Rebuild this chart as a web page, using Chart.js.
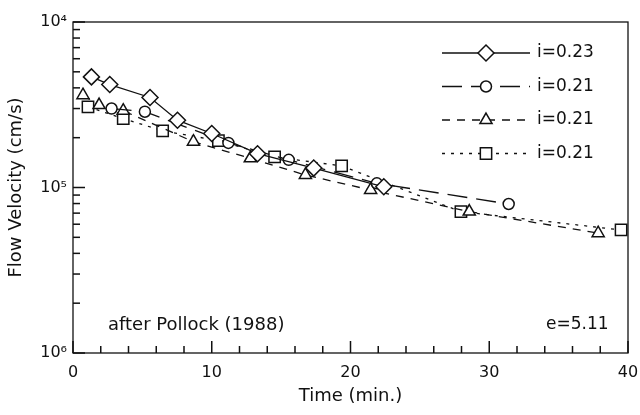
<!DOCTYPE html>
<html>
<head>
<meta charset="utf-8">
<script src="https://cdn.jsdelivr.net/npm/chart.js@4"></script>
<style>
html, body { margin: 0; padding: 0; background: #fff; }
canvas { display: block; }
</style>
</head>
<body>
<canvas id="chart" width="640" height="415"></canvas>
<script>
// values: time in minutes, flow velocity in cm/s
const seriesLabels = ['i=0.23', 'i=0.21', 'i=0.21', 'i=0.21'];

const diamondTime = [1.33, 2.65, 5.55, 7.53, 10.0, 13.3, 17.35, 22.4];
const diamondVel = [4.66e-5, 4.19e-5, 3.50e-5, 2.55e-5, 2.12e-5, 1.60e-5, 1.31e-5, 1.01e-5];

const circleTime = [2.78, 5.18, 11.2, 15.55, 21.9, 31.4];
const circleVel = [3.0e-5, 2.87e-5, 1.86e-5, 1.47e-5, 1.06e-5, 7.95e-6];

const triangleTime = [0.72, 1.88, 3.62, 8.68, 12.78, 16.75, 21.45, 28.56, 37.85];
const triangleVel = [3.61e-5, 3.15e-5, 2.91e-5, 1.89e-5, 1.50e-5, 1.19e-5, 9.66e-6, 7.15e-6, 5.30e-6];

const squareTime = [1.08, 3.62, 6.46, 10.48, 14.53, 19.36, 27.96, 39.5];
const squareVel = [3.07e-5, 2.61e-5, 2.20e-5, 1.92e-5, 1.53e-5, 1.35e-5, 7.15e-6, 5.54e-6];

const yTickValues = [1e-6, 1e-5, 1e-4];
const yTickLabels = ['10⁶', '10⁵', '10⁴'];
const yMinorSteps = [2, 3, 4, 5, 6, 7, 8, 9];
const xMarks = [0, 2, 4, 6, 8, 10, 12, 14, 16, 18, 20, 22, 24, 26, 28, 30, 32, 34, 36, 38, 40];

const notes = ['after Pollock (1988)', 'e=5.11'];

const FONT = "'DejaVu Sans', 'Liberation Sans', sans-serif";
const INK = '#111';

const toPoints = (xs, ys) => xs.map((x, i) => ({ x: x, y: ys[i] }));

// frame, inward ticks, legend and the two notes
const paperStyle = {
    id: 'paperStyle',
    afterDatasetsDraw(chart) {
        const ctx = chart.ctx;
        const area = chart.chartArea;
        const xs = chart.scales.x;
        const ys = chart.scales.y;
        ctx.save();
        ctx.strokeStyle = INK;
        ctx.lineWidth = 1.3;
        ctx.setLineDash([]);
        ctx.strokeRect(area.left, area.top, area.right - area.left, area.bottom - area.top);

        // inward tick marks on the left and bottom edges
        ctx.fillStyle = INK;
        const yMarks = [];
        yTickValues.forEach((d, i) => {
            yMarks.push([d, 12]);
            if (i < yTickValues.length - 1) yMinorSteps.forEach(m => yMarks.push([d * m, 7]));
        });
        yMarks.forEach(([v, len]) => {
            const py = ys.getPixelForValue(v);
            ctx.fillRect(area.left, py - 0.75, len, 1.5);
        });
        xMarks.forEach(v => {
            const px = xs.getPixelForValue(v);
            const len = v % 10 === 0 ? 12 : 7;
            ctx.fillRect(px - 0.75, area.bottom - len, 1.5, len);
        });

        // legend: line + marker + label
        const x1 = area.right - 186, x2 = area.right - 98;
        chart.data.datasets.forEach((ds, i) => {
            const y = area.top + 31 + i * 33.5;
            ctx.strokeStyle = INK;
            ctx.lineWidth = ds.borderWidth;
            ctx.setLineDash(ds.borderDash || []);
            ctx.beginPath();
            ctx.moveTo(x1, y);
            ctx.lineTo(x2, y);
            ctx.stroke();
            ctx.setLineDash([]);
            ctx.fillStyle = '#fff';
            ctx.lineWidth = ds.pointBorderWidth;
            Chart.helpers.drawPoint(ctx, {
                pointStyle: ds.pointStyle,
                radius: ds.pointRadius,
                rotation: 0,
                borderWidth: ds.pointBorderWidth
            }, (x1 + x2) / 2, y);
            ctx.fillStyle = INK;
            ctx.font = '17px ' + FONT;
            ctx.textAlign = 'left';
            ctx.textBaseline = 'middle';
            ctx.fillText(ds.label, x2 + 7, y);
        });

        ctx.font = '18px ' + FONT;
        ctx.fillStyle = INK;
        ctx.textBaseline = 'middle';
        ctx.fillText(notes[0], area.left + 35, area.bottom - 28);
        ctx.font = '17px ' + FONT;
        ctx.fillText(notes[1], area.right - 82, area.bottom - 28);
        ctx.restore();
    }
};

const lineSet = (label, data, style, radius, dash) => ({
    label: label,
    data: data,
    borderColor: INK,
    borderWidth: 1.3,
    borderDash: dash,
    pointStyle: style,
    pointRadius: radius,
    pointBorderWidth: 1.5,
    pointBorderColor: INK,
    pointBackgroundColor: '#fff',
    tension: 0,
    fill: false
});

new Chart(document.getElementById('chart'), {
    type: 'line',
    data: {
        datasets: [
            lineSet(seriesLabels[0], toPoints(diamondTime, diamondVel), 'rectRot', 8, []),
            lineSet(seriesLabels[1], toPoints(circleTime, circleVel), 'circle', 5.5, [20, 9]),
            lineSet(seriesLabels[2], toPoints(triangleTime, triangleVel), 'triangle', 7, [8, 7]),
            lineSet(seriesLabels[3], toPoints(squareTime, squareVel), 'rect', 8, [3, 6])
        ]
    },
    options: {
        responsive: false,
        animation: false,
        clip: false,
        layout: { padding: { top: 22, right: 0, left: 0, bottom: 0 } },
        plugins: {
            legend: { display: false },
            tooltip: { enabled: false }
        },
        scales: {
            x: {
                type: 'linear',
                min: 0,
                max: 40,
                grid: { display: false, drawTicks: false },
                border: { display: false },
                ticks: {
                    stepSize: 10,
                    autoSkip: false,
                    maxRotation: 0,
                    padding: 10,
                    color: INK,
                    font: { family: FONT, size: 16 }
                },
                title: {
                    display: true,
                    text: 'Time (min.)',
                    color: INK,
                    font: { family: FONT, size: 18 },
                    padding: { top: 0, bottom: 8 }
                },
                afterFit: s => { s.height = 62; s.paddingRight = 12; }
            },
            y: {
                type: 'logarithmic',
                min: 1e-6,
                max: 1e-4,
                grid: { display: false, drawTicks: false },
                border: { display: false },
                afterBuildTicks: s => { s.ticks = yTickValues.map(v => ({ value: v })); },
                ticks: {
                    autoSkip: false,
                    padding: 6,
                    color: INK,
                    font: { family: FONT, size: 16 },
                    callback: v => {
                        const i = yTickValues.findIndex(t => Math.abs(t - v) / t < 1e-6);
                        return i >= 0 ? yTickLabels[i] : '';
                    }
                },
                title: {
                    display: true,
                    text: 'Flow Velocity (cm/s)',
                    color: INK,
                    font: { family: FONT, size: 18 },
                    padding: { top: 6, bottom: 0 }
                },
                afterFit: s => { s.width = 73; }
            }
        }
    },
    plugins: [paperStyle]
});
</script>
</body>
</html>
